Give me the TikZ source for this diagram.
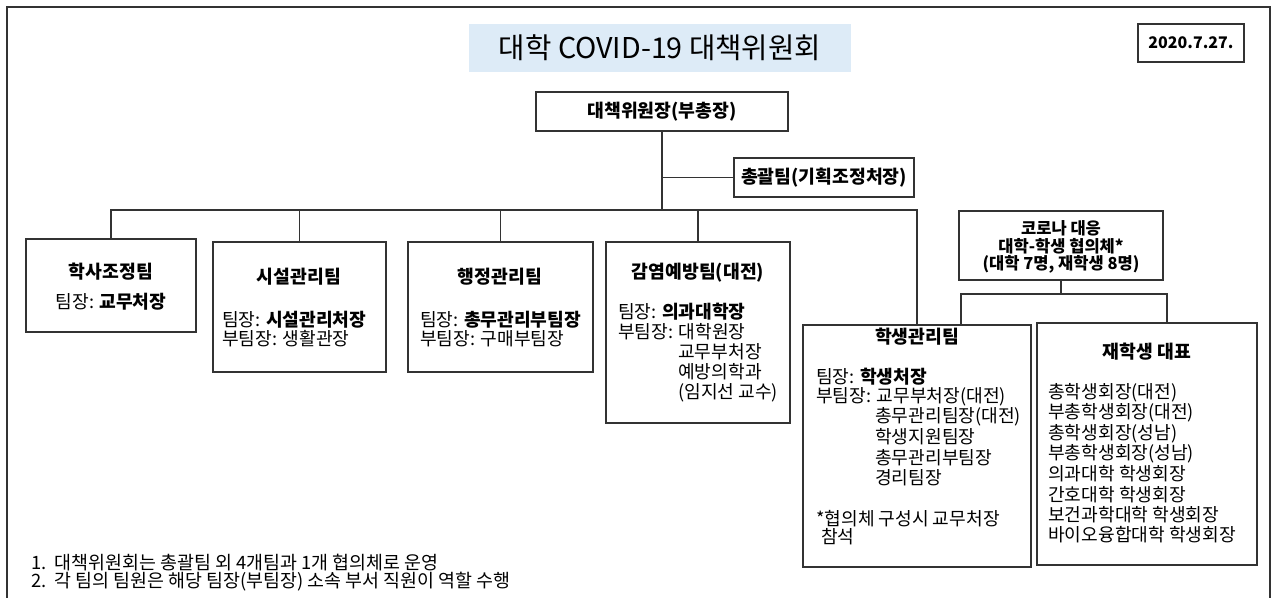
\documentclass[tikz,border=0pt]{standalone}
\usepackage{fontspec}
\setmainfont{Noto Sans CJK KR}
\usepackage{tikz}
\usetikzlibrary{fit}

\begin{document}
\begin{tikzpicture}[x=0.75pt,y=0.75pt,yscale=-1,xscale=1,
  box/.style={draw={rgb, 255:red, 51; green, 51; blue, 51 }, line width=1.1pt, inner sep=0pt},
  ln/.style={draw={rgb, 255:red, 51; green, 51; blue, 51 }, line width=1.1pt},
  txt/.style={inner sep=0.75pt, font=\fontsize{13.6}{16}\selectfont},
  hd/.style={inner sep=0.75pt, font=\fontsize{13.7}{16}\selectfont\bfseries}]
\useasboundingbox (0,0) rectangle (1276,598);

%Straight Lines [id:frame] 
\draw [ln] (7,598) -- (7,7) -- (1270,7) -- (1270,598) ;

%Shape: Rectangle [id:titleBox] 
\node [fit={(469,24) (851,72)}, inner sep=0pt, fill={rgb, 255:red, 221; green, 235; blue, 247 }] (titleBox) {};
%Shape: Rectangle [id:dateBox] 
\node [box, fit={(1138,24) (1244,62)}] (dateBox) {};
%Shape: Rectangle [id:chair] 
\node [box, fit={(536,92) (788,131)}] (chair) {};
%Shape: Rectangle [id:chong] 
\node [box, fit={(734,158) (914,197)}] (chong) {};
%Shape: Rectangle [id:haksa] 
\node [box, fit={(26,239) (196,332)}] (haksa) {};
%Shape: Rectangle [id:siseol] 
\node [box, fit={(213,242) (386,372)}] (siseol) {};
%Shape: Rectangle [id:haeng] 
\node [box, fit={(408,242) (593,372)}] (haeng) {};
%Shape: Rectangle [id:gamyeom] 
\node [box, fit={(606,242) (790,423)}] (gamyeom) {};
%Shape: Rectangle [id:hyup] 
\node [box, fit={(959,211) (1163,280)}] (hyup) {};
%Shape: Rectangle [id:hakseng] 
\node [box, fit={(803,325) (1031,567)}] (hakseng) {};
%Shape: Rectangle [id:jaehak] 
\node [box, fit={(1037,323) (1257,565)}] (jaehak) {};

\coordinate (bus) at (660,210);
\coordinate (splitL) at (961,294);
\coordinate (splitR) at (1167,294);

%Straight Lines [id:chairDown] 
\draw [ln] (chair.south) -- (chair.south |- bus) ;
%Straight Lines [id:chongLink] 
\draw [ln] (chair.south |- chong.west) -- (chong.west) ;
%Straight Lines [id:busLine] 
\draw [ln] (haksa.north) -- (haksa.north |- bus) -- (hakseng.north |- bus) -- (hakseng.north) ;
\draw [ln] (siseol.north) -- (siseol.north |- bus) ;
\draw [ln] (haeng.north) -- (haeng.north |- bus) ;
\draw [ln] (gamyeom.north) -- (gamyeom.north |- bus) ;
%Straight Lines [id:hyupSplit] 
\draw [ln] (hyup.south) -- (hyup.south |- splitL) ;
\draw [ln] (splitL |- hakseng.north) -- (splitL) -- (splitR) -- (splitR |- jaehak.north) ;

% Text Node
\node [txt, font=\fontsize{21.5}{25}\selectfont] (titleTxt) at (titleBox) {대학 COVID-19 대책위원회};
% Text Node
\node [hd, font=\fontsize{12}{15}\selectfont\bfseries] (dateTxt) at (dateBox) {2020.7.27.};
% Text Node
\node [hd] (chairTxt) at (chair) {대책위원장(부총장)};
% Text Node
\node [hd] (chongTxt) at (chong) {총괄팀(기획조정처장)};

% Text Node
\node [hd] (haksaHd) at (111,272) {학사조정팀};
\node [txt] (haksaL1) at (111,302) {팀장: \textbf{교무처장}};
% Text Node
\node [hd] (siseolHd) at (299,277) {시설관리팀};
\node [txt, anchor=west] (siseolL1) at (221,320) {팀장: \textbf{시설관리처장}};
\node [txt, anchor=west] (siseolL2) at (221,339) {부팀장: 생활관장};
% Text Node
\node [hd] (haengHd) at (500,277) {행정관리팀};
\node [txt, anchor=west] (haengL1) at (419,320) {팀장: \textbf{총무관리부팀장}};
\node [txt, anchor=west] (haengL2) at (419,339) {부팀장: 구매부팀장};
% Text Node
\node [hd] (gamyeomHd) at (698,273) {감염예방팀(대전)};
\node [txt, anchor=west] (gamyeomL1) at (617,312) {팀장: \textbf{의과대학장}};
\node [txt, anchor=west] (gamyeomL2) at (617,332) {부팀장: 대학원장};
\node [txt, anchor=west] (gamyeomL3) at (677,352) {교무부처장};
\node [txt, anchor=west] (gamyeomL4) at (677,372) {예방의학과};
\node [txt, anchor=west] (gamyeomL5) at (677,393) {(임지선 교수)};

% Text Node
\node [hd, font=\fontsize{12.4}{15}\selectfont\bfseries] (hyupL1) at (1061,228) {코로나 대응};
\node [hd, font=\fontsize{12.4}{15}\selectfont\bfseries] (hyupL2) at (1061,246) {대학-학생 협의체*};
\node [hd, font=\fontsize{12.4}{15}\selectfont\bfseries] (hyupL3) at (1061,264) {(대학 7명, 재학생 8명)};

% Text Node
\node [hd] (haksengHd) at (917,337) {학생관리팀};
\node [txt, anchor=west] (haksengL1) at (815,377) {팀장: \textbf{학생처장}};
\node [txt, anchor=west] (haksengL2) at (815,397) {부팀장: 교무부처장(대전)};
\node [txt, anchor=west] (haksengL3) at (874,417) {총무관리팀장(대전)};
\node [txt, anchor=west] (haksengL4) at (874,437) {학생지원팀장};
\node [txt, anchor=west] (haksengL5) at (874,458) {총무관리부팀장};
\node [txt, anchor=west] (haksengL6) at (874,478) {경리팀장};
\node [txt, anchor=west] (haksengL7) at (815,519) {*협의체 구성시 교무처장};
\node [txt, anchor=west] (haksengL8) at (820,537) {참석};

% Text Node
\node [hd] (jaehakHd) at (1147,352) {재학생 대표};
\node [txt, anchor=west] (jaehakL1) at (1047,393) {총학생회장(대전)};
\node [txt, anchor=west] (jaehakL2) at (1047,413) {부총학생회장(대전)};
\node [txt, anchor=west] (jaehakL3) at (1047,434) {총학생회장(성남)};
\node [txt, anchor=west] (jaehakL4) at (1047,454) {부총학생회장(성남)};
\node [txt, anchor=west] (jaehakL5) at (1047,474) {의과대학 학생회장};
\node [txt, anchor=west] (jaehakL6) at (1047,495) {간호대학 학생회장};
\node [txt, anchor=west] (jaehakL7) at (1047,515) {보건과학대학 학생회장};
\node [txt, anchor=west] (jaehakL8) at (1047,535) {바이오융합대학 학생회장};

% Text Node
\node [txt, anchor=west, font=\fontsize{13.8}{16}\selectfont] (note1) at (30,563) {1.\ \ 대책위원회는 총괄팀 외 4개팀과 1개 협의체로 운영};
\node [txt, anchor=west, font=\fontsize{13.8}{16}\selectfont] (note2) at (30,582) {2.\ \ 각 팀의 팀원은 해당 팀장(부팀장) 소속 부서 직원이 역할 수행};

\end{tikzpicture}
\end{document}
